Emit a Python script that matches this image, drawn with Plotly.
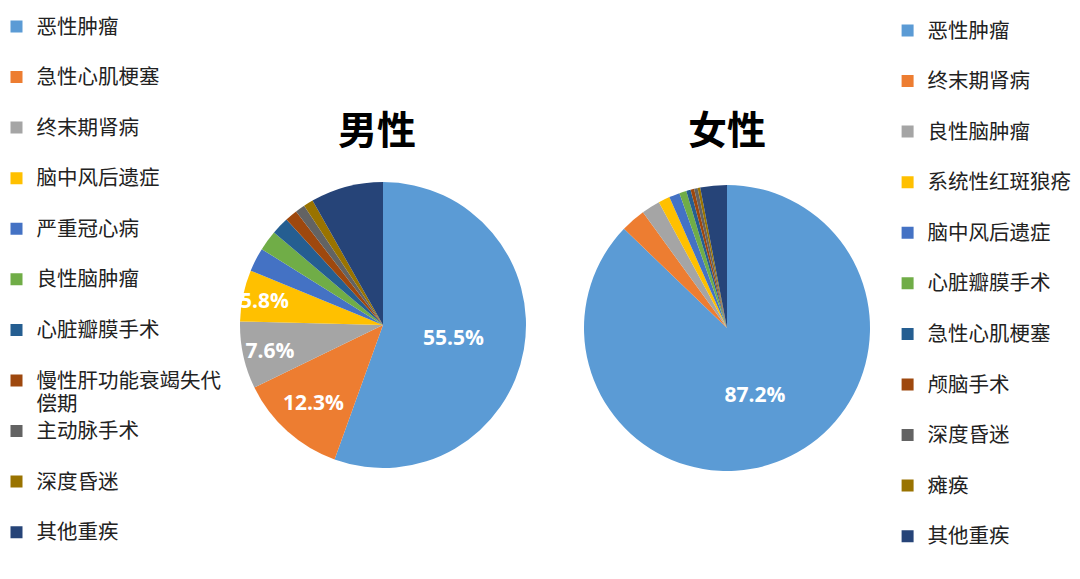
import plotly.graph_objects as go

# slice colours (office palette), same order in both pies
colors = ['#5B9BD5', '#ED7D31', '#A5A5A5', '#FFC000', '#4472C4', '#70AD47',
          '#255E91', '#9E480E', '#636363', '#997300', '#264478']

male_labels = ['恶性肿瘤', '急性心肌梗塞', '终末期肾病', '脑中风后遗症', '严重冠心病', '良性脑肿瘤',
               '心脏瓣膜手术', '慢性肝功能衰竭失代偿期', '主动脉手术', '深度昏迷', '其他重疾']
male_values = [55.5, 12.3, 7.6, 5.8, 2.7, 2.3, 2.0, 1.4, 1.1, 1.1, 8.2]
male_labeled = 4  # only the first slices carry a percentage

female_labels = ['恶性肿瘤', '终末期肾病', '良性脑肿瘤', '系统性红斑狼疮', '脑中风后遗症', '心脏瓣膜手术',
                 '急性心肌梗塞', '颅脑手术', '深度昏迷', '瘫痪', '其他重疾']
female_values = [87.2, 2.8, 2.1, 1.3, 1.2, 0.8, 0.5, 0.4, 0.4, 0.3, 3.0]
female_labeled = 1

OFF = 8  # page body margin
W, H = 1080 - OFF, 579 - OFF
CJK = 'Noto Sans CJK SC'


def wrap(label, tail):
    # every legend entry is two lines tall, long names really wrap
    big = lambda s: f'<span style="font-size:20.5px">{s}</span>'
    if len(label) > 9:
        return big(label[:9]) + '<br>' + big(label[9:])
    return big(label) + '<br>' + tail  # tail keeps the two legends' labels apart


def pct_text(vals, n):
    return [f'{v}%' if i < n else '' for i, v in enumerate(vals)]


def pie(labels, values, n, cx, cy, r, legend, tail):
    cx, cy = cx - OFF, cy - OFF
    return go.Pie(
        labels=[wrap(l, tail) for l in labels], values=values,
        text=pct_text(values, n), textinfo='text', textposition='inside',
        insidetextorientation='horizontal',
        insidetextfont=dict(color='white', size=21, family='Open Sans', weight='bold'),
        marker=dict(colors=colors, line=dict(width=0)),
        sort=False, direction='clockwise', rotation=0,
        domain=dict(x=[(cx - r) / W, (cx + r) / W], y=[(H - cy - r) / H, (H - cy + r) / H]),
        legend=legend, hoverinfo='label+percent',
    )


fig = go.Figure()
fig.add_trace(pie(male_labels, male_values, male_labeled, 383, 325, 143, 'legend', ' '))
fig.add_trace(pie(female_labels, female_values, female_labeled, 727, 328, 143, 'legend2', '  '))

legend_style = dict(font=dict(family=CJK, size=18.3, color='#222'), valign='top',
                    bgcolor='rgba(0,0,0,0)', xanchor='left')


def title(text, x, y):
    return dict(text=text, x=(x - OFF) / W, y=1 - (y - OFF) / H, xref='paper', yref='paper',
                xanchor='center', yanchor='middle', showarrow=False,
                font=dict(family=CJK, size=39, color='black', weight='bold'))


fig.update_layout(
    width=W, height=H,
    margin=dict(l=0, r=0, t=0, b=0, autoexpand=False),
    paper_bgcolor='white',
    uniformtext=dict(minsize=21, mode='show'),
    legend=dict(x=-11.5 / W, y=1.0, yanchor='top', **legend_style),
    legend2=dict(x=(887.6 - OFF) / W, y=0, yanchor='bottom', **legend_style),
    annotations=[title('男性', 377, 127), title('女性', 727, 127)],
)

fig.write_html("out.html")
